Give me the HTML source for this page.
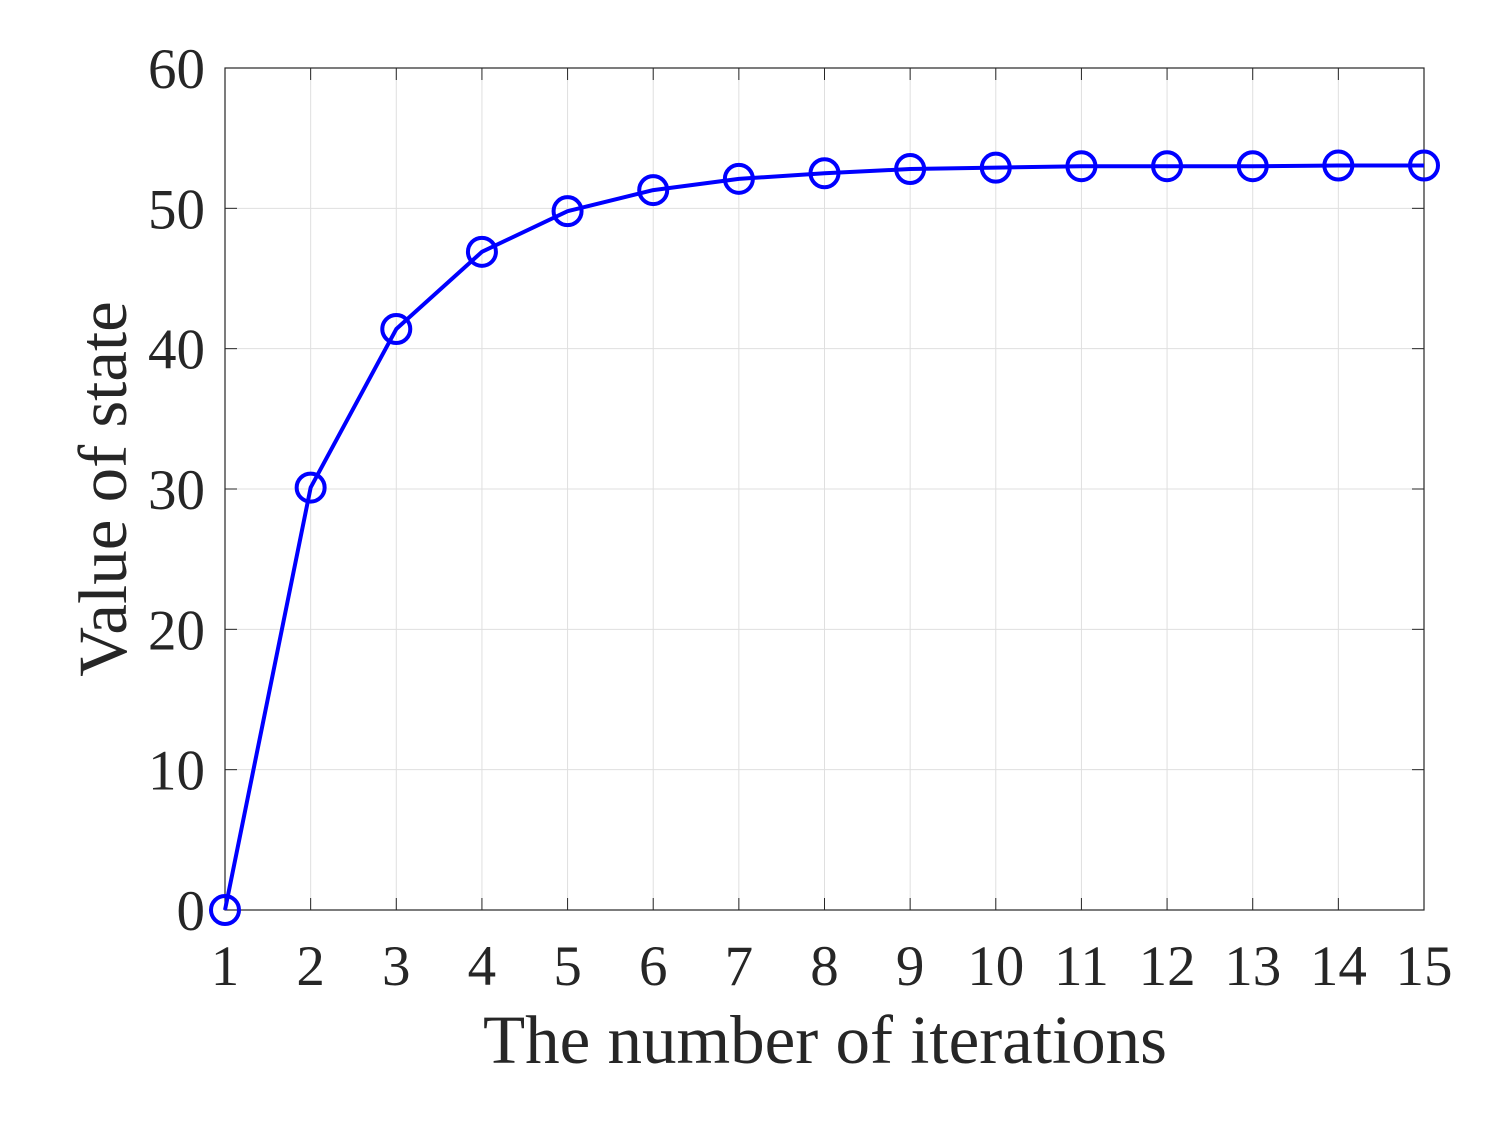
<!DOCTYPE html>
<html>
<head>
<meta charset="utf-8">
<style>
html,body{margin:0;padding:0;background:#fff;}
svg{display:block;}
text{font-family:"Liberation Serif","Times New Roman",serif;fill:#262626;}
</style>
</head>
<body>
<svg id="chart" width="1500" height="1125" viewBox="0 0 1500 1125">
<rect x="0" y="0" width="1500" height="1125" fill="#fff"/>
<g id="grid"></g>
<g id="axes"></g>
<g id="series"></g>
<text x="825" y="1063" font-size="69" text-anchor="middle">The number of iterations</text>
<text transform="translate(126,489) rotate(-90)" font-size="69" text-anchor="middle">Value of state</text>
</svg>
<script>
const iterations = [1,2,3,4,5,6,7,8,9,10,11,12,13,14,15];
const stateValues = [0,30.1,41.4,46.9,49.8,51.3,52.1,52.5,52.8,52.9,53.0,53.0,53.0,53.05,53.05];
const yTicks = [0,10,20,30,40,50,60];

const L=225,R=1424,T=68,B=910;
const xMin=1,xMax=15,yMin=0,yMax=60;
const NS="http://www.w3.org/2000/svg";
function xs(v){return L+(v-xMin)/(xMax-xMin)*(R-L);}
function ys(v){return B-(v-yMin)/(yMax-yMin)*(B-T);}
function mk(tag,attrs,parent){const e=document.createElementNS(NS,tag);for(const k in attrs)e.setAttribute(k,attrs[k]);parent.appendChild(e);return e;}

const grid=document.getElementById('grid');
const axes=document.getElementById('axes');
const series=document.getElementById('series');

iterations.forEach(v=>{
  const x=xs(v);
  const g=mk('line',{x1:x,x2:x,y1:T,y2:B,stroke:'#dfdfdf','stroke-width':1},grid);
  
  
  const t1=mk('line',{x1:x,x2:x,y1:B,y2:B-12,stroke:'#262626','stroke-width':1},axes);
  
  
  const t2=mk('line',{x1:x,x2:x,y1:T,y2:T+12,stroke:'#262626','stroke-width':1},axes);
  
  
  const lb=mk('text',{x:x,y:985,'font-size':57,'text-anchor':'middle'},axes);
  lb.textContent=String(v);
  
  
});
yTicks.forEach(v=>{
  const y=ys(v);
  const g=mk('line',{x1:L,x2:R,y1:y,y2:y,stroke:'#dfdfdf','stroke-width':1},grid);
  
  
  const t1=mk('line',{x1:L,x2:L+12,y1:y,y2:y,stroke:'#262626','stroke-width':1},axes);
  
  
  const t2=mk('line',{x1:R,x2:R-12,y1:y,y2:y,stroke:'#262626','stroke-width':1},axes);
  
  
  const lb=mk('text',{x:205,y:y+20,'font-size':57,'text-anchor':'end'},axes);
  lb.textContent=String(v);
  
  
});
const box=mk('rect',{x:L,y:T,width:R-L,height:B-T,fill:'none',stroke:'#262626','stroke-width':1.2},axes);



const pts=iterations.map((v,i)=>xs(v)+','+ys(stateValues[i])).join(' ');
const line=mk('polyline',{points:pts,fill:'none',stroke:'#0000ff','stroke-width':4,'stroke-linejoin':'round'},series);


iterations.forEach((v,i)=>{
  const c=mk('circle',{cx:xs(v),cy:ys(stateValues[i]),r:14,fill:'none',stroke:'#0000ff','stroke-width':4},series);
  
  
});
</script>
</body>
</html>
